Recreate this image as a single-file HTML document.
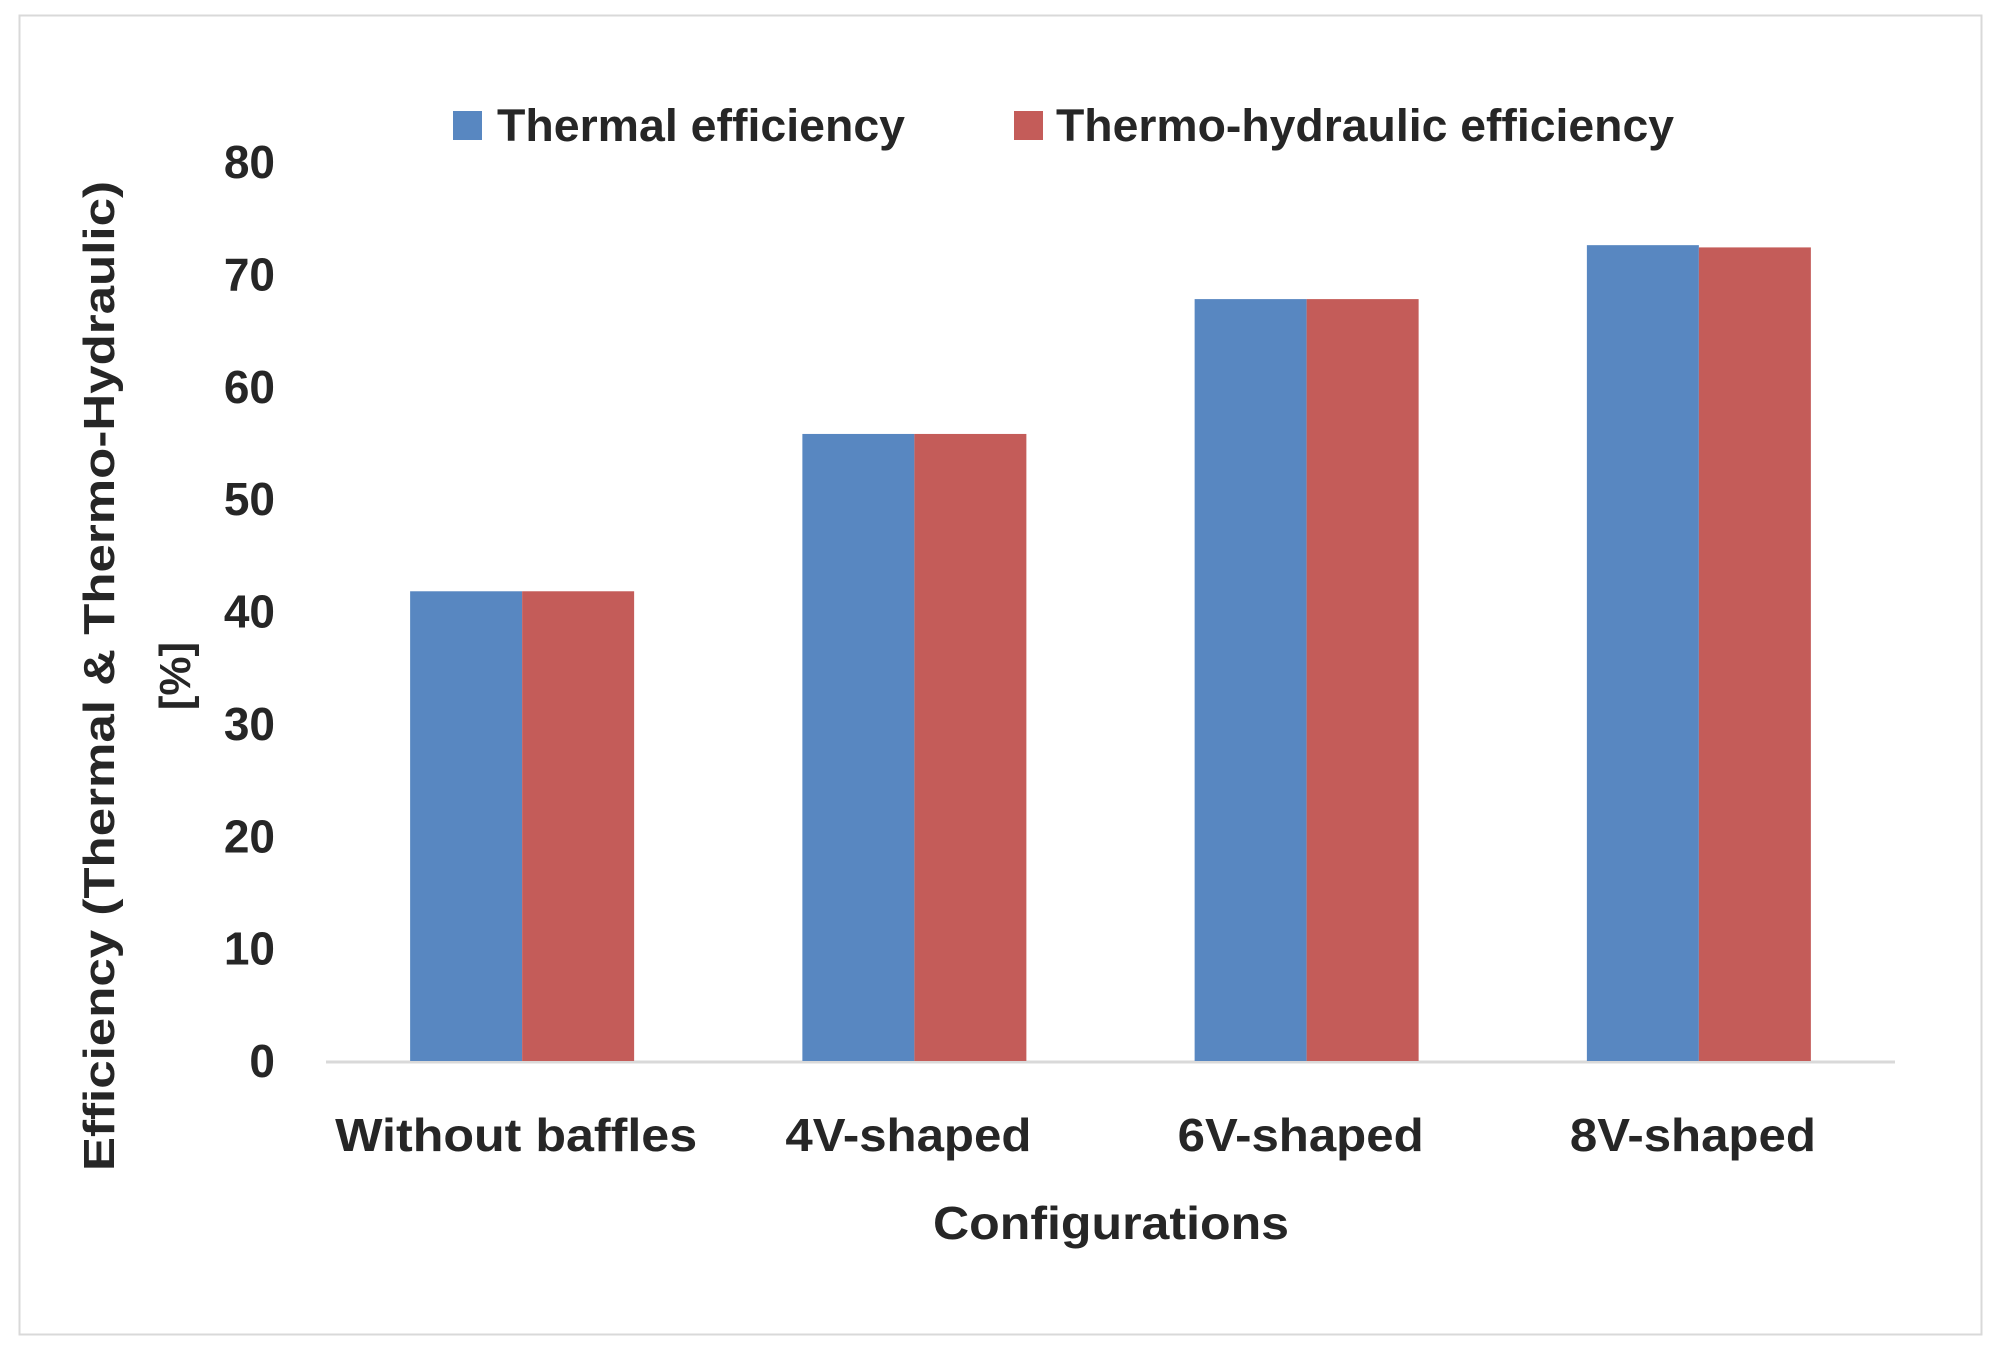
<!DOCTYPE html>
<html><head><meta charset="utf-8"><style>
html,body{margin:0;padding:0;background:#fff;width:1999px;height:1351px;overflow:hidden}
svg text{font-family:"Liberation Sans",sans-serif;font-weight:bold;fill:#262626}
</style></head><body>
<svg id="chart" width="1999" height="1351" viewBox="0 0 1999 1351">
<rect x="19.5" y="15.5" width="1962" height="1319" fill="#fff" stroke="#d9d9d9" stroke-width="2"/>
<g id="grid"></g>
<g id="bars"></g>
<g id="labels"></g>
<g>
<rect x="453" y="111" width="29" height="29" fill="#5887c1"/>
<text x="497" y="141" font-size="45" textLength="408" lengthAdjust="spacingAndGlyphs">Thermal efficiency</text>
<rect x="1014" y="111" width="29" height="29" fill="#c45c59"/>
<text x="1056" y="141" font-size="45" textLength="618" lengthAdjust="spacingAndGlyphs">Thermo-hydraulic efficiency</text>
</g>
<text x="1111" y="1239" font-size="46" text-anchor="middle" textLength="356" lengthAdjust="spacingAndGlyphs">Configurations</text>
<g>
<text transform="translate(114,676) rotate(-90)" font-size="44" text-anchor="middle" textLength="990" lengthAdjust="spacingAndGlyphs">Efficiency (Thermal &amp; Thermo-Hydraulic)</text>
<text transform="translate(190,676) rotate(-90)" font-size="44" text-anchor="middle">[%]</text>
</g>
</svg>
<script>
const categories = ["Without baffles", "4V-shaped", "6V-shaped", "8V-shaped"];
const thermal = [41.8, 55.8, 67.8, 72.6];
const thermoHydraulic = [41.8, 55.8, 67.8, 72.4];
const yTicks = [0, 10, 20, 30, 40, 50, 60, 70, 80];
const NS = "http://www.w3.org/2000/svg";
const y0 = 1061, y80 = 162, xL = 326, xR = 1895;
const yScale = v => y0 - (v / 80) * (y0 - y80);
const groupW = (xR - xL) / categories.length;
const xCenter = i => xL + groupW * (i + 0.5);
const barW = 112;
function mk(tag, attrs, parent) { const e = document.createElementNS(NS, tag); for (const k in attrs) e.setAttribute(k, attrs[k]); parent.appendChild(e); return e; }
const grid = document.getElementById('grid'), bars = document.getElementById('bars'), labels = document.getElementById('labels');
const axis = mk('line', {x1: xL, x2: xR, y1: y0 + 1, y2: y0 + 1, stroke: '#d9d9d9', 'stroke-width': 3}, grid);


yTicks.forEach(t => {
  const tx = mk('text', {x: 275, y: yScale(t) + 16, 'font-size': 46, 'text-anchor': 'end'}, labels);
  tx.textContent = t;
  
  
});
categories.forEach((c, i) => {
  const cx = xCenter(i);
  const b1 = mk('rect', {x: cx - barW, y: yScale(thermal[i]), width: barW, height: y0 - yScale(thermal[i]), fill: '#5887c1'}, bars);
  
  
  const b2 = mk('rect', {x: cx, y: yScale(thermoHydraulic[i]), width: barW, height: y0 - yScale(thermoHydraulic[i]), fill: '#c45c59'}, bars);
  
  
  const tx = mk('text', {x: cx - 6, y: 1151, 'font-size': 46, 'text-anchor': 'middle', textLength: i === 0 ? 362 : 246, lengthAdjust: 'spacingAndGlyphs'}, labels);
  tx.textContent = c;
  
  
});
</script>
</body></html>
